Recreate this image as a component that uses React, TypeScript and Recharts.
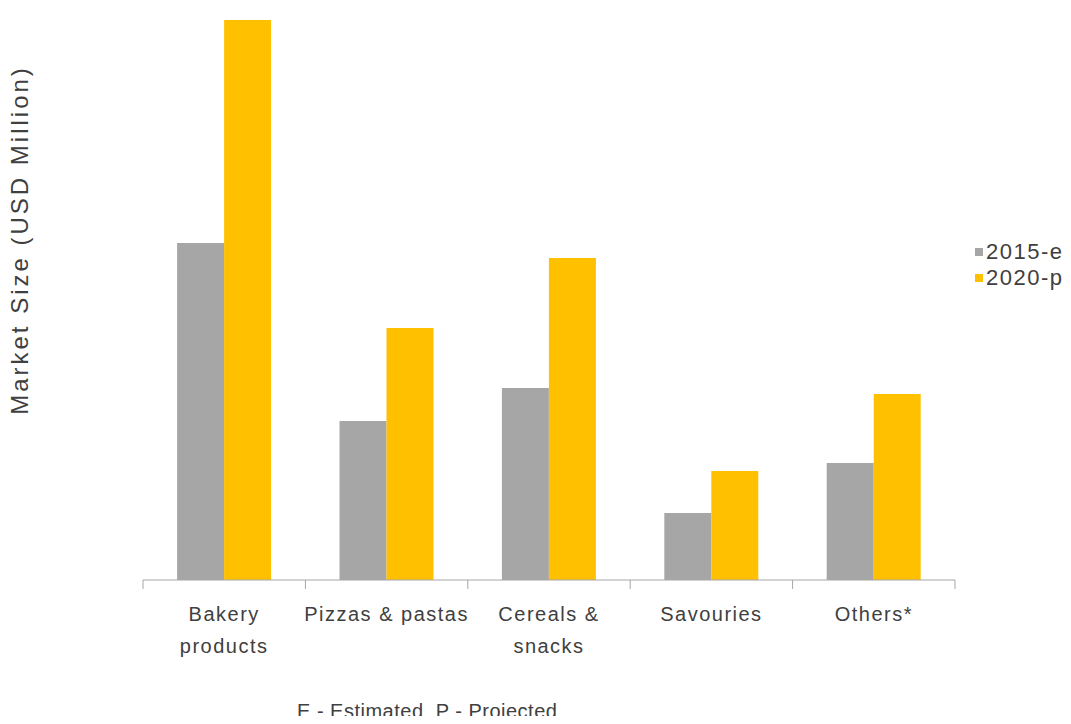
import React from "react";
import { Bar, BarChart, XAxis, YAxis } from "recharts";

const categories = [
  ["Bakery", "products"],
  ["Pizzas & pastas"],
  ["Cereals &", "snacks"],
  ["Savouries"],
  ["Others*"],
];
const values2015 = [337, 159, 192, 67, 117];
const values2020 = [560, 252, 322, 109, 186];
const seriesNames = ["2015-e", "2020-p"];
const seriesColors = ["#a6a6a6", "#ffc000"];

const data = categories.map((lines, i) => ({
  name: lines.join(" "),
  e2015: values2015[i],
  p2020: values2020[i],
}));

const WIDTH = 1071;
const HEIGHT = 724;
const LEFT = 143;
const RIGHT = 116;
const BAND = (WIDTH - LEFT - RIGHT) / categories.length;
const FONT = "'Liberation Sans', Arial, sans-serif";
const TEXT = "#404040";

// category label plus the boundary tick marks between groups
const CategoryTick = (props: any) => {
  const { x, y, payload, index } = props;
  const lines = categories[index] || [payload.value];
  const left = x - BAND / 2;
  return (
    <g>
      <line x1={left} x2={left} y1={y} y2={y + 9} stroke="#a6a6a6" />
      {index === categories.length - 1 && (
        <line x1={x + BAND / 2} x2={x + BAND / 2} y1={y} y2={y + 9} stroke="#a6a6a6" />
      )}
      <text
        x={x}
        y={y + 41}
        textAnchor="middle"
        fill={TEXT}
        fontSize={20}
        letterSpacing={1.5}
        fontFamily={FONT}
      >
        {lines.map((l: string, i: number) => (
          <tspan key={i} x={x} dy={i === 0 ? 0 : 32}>
            {l}
          </tspan>
        ))}
      </text>
    </g>
  );
};

const App = () => {
  return (
    <div
      style={{
        position: "relative",
        margin: -8,
        width: WIDTH,
        height: HEIGHT,
        background: "#fff",
        fontFamily: FONT,
        color: TEXT,
        overflow: "hidden",
      }}
    >
      <BarChart
        width={WIDTH}
        height={HEIGHT}
        data={data}
        margin={{ top: 20, right: RIGHT, bottom: 0, left: LEFT }}
        barCategoryGap="21%"
        barGap={0}
      >
        <XAxis
          dataKey="name"
          axisLine={{ stroke: "#a6a6a6" }}
          tickLine={false}
          tickSize={0}
          tickMargin={0}
          interval={0}
          tick={<CategoryTick />}
          height={144}
        />
        <YAxis hide domain={[0, 560]} />
        <Bar dataKey="e2015" name={seriesNames[0]} fill={seriesColors[0]} isAnimationActive={false} />
        <Bar dataKey="p2020" name={seriesNames[1]} fill={seriesColors[1]} isAnimationActive={false} />
      </BarChart>

      {/* legend on the right */}
      {seriesNames.map((n, i) => (
        <div
          key={n}
          style={{
            position: "absolute",
            left: 975,
            top: 240 + i * 26,
            height: 24,
            display: "flex",
            alignItems: "center",
            whiteSpace: "nowrap",
            fontSize: 22,
            letterSpacing: 1.5,
          }}
        >
          <span style={{ width: 8, height: 8, background: seriesColors[i], marginRight: 3 }} />
          {n}
        </div>
      ))}

      <div
        style={{
          position: "absolute",
          left: 20,
          top: 240,
          transform: "translate(-50%, -50%) rotate(-90deg)",
          whiteSpace: "nowrap",
          fontSize: 24,
          letterSpacing: 3,
        }}
      >
        Market Size (USD Million)
      </div>
      <div
        style={{
          position: "absolute",
          left: 297,
          top: 700,
          fontSize: 20,
          letterSpacing: 0.5,
          whiteSpace: "nowrap",
        }}
      >
        E - Estimated&nbsp;&nbsp;P - Projected
      </div>
    </div>
  );
};

export default App;
